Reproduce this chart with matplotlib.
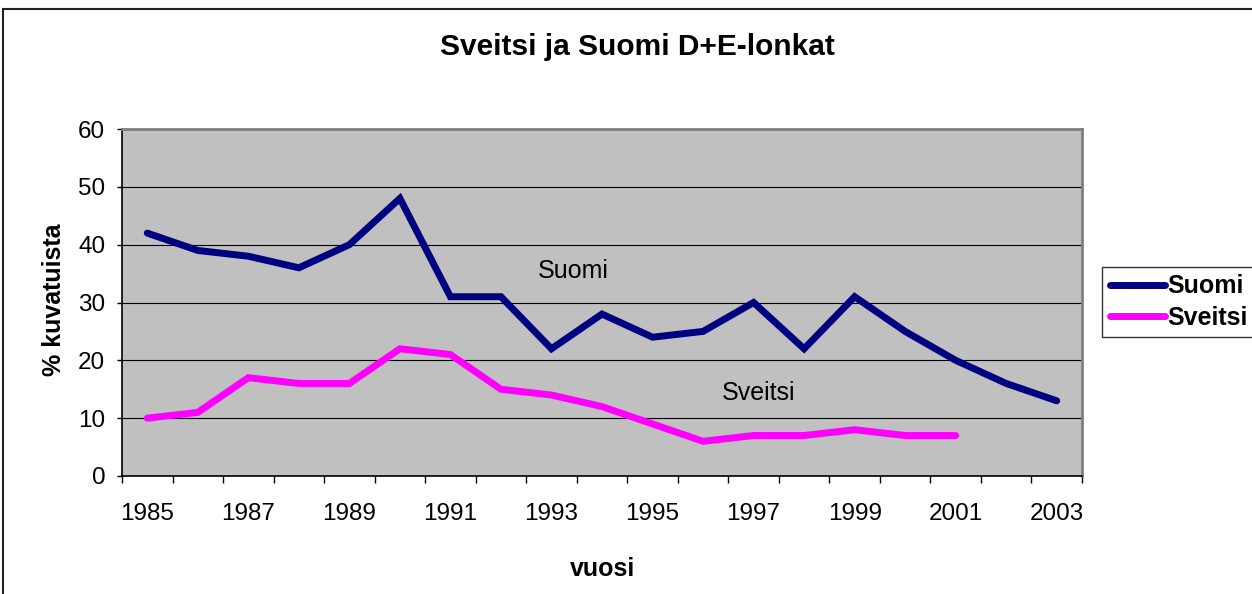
import matplotlib.pyplot as plt
import numpy as np
from matplotlib.patches import Rectangle
from matplotlib.ticker import FixedLocator, NullFormatter

plt.rcParams["font.family"] = ["Liberation Sans", "DejaVu Sans"]

# data
years = list(range(1985, 2004))
suomi = [42, 39, 38, 36, 40, 48, 31, 31, 22, 28, 24, 25, 30, 22, 31, 25, 20, 16, 13]
sveitsi = [10, 11, 17, 16, 16, 22, 21, 15, 14, 12, 9, 6, 7, 7, 8, 7, 7]
year_labels = [str(y) for y in years[::2]]

W, H = 1252, 594
fig = plt.figure(figsize=(W / 100, H / 100), dpi=100)
ax = fig.add_axes([122 / W, (H - 476) / H, 960 / W, 347 / H])
ax.set_facecolor("#C0C0C0")

x_su = np.arange(len(suomi))
x_sv = np.arange(len(sveitsi))
ax.plot(x_su, suomi, color="#000080", lw=5, solid_joinstyle="miter",
        solid_capstyle="round", label="Suomi", zorder=3)
ax.plot(x_sv, sveitsi, color="#FF00FF", lw=5, solid_joinstyle="miter",
        solid_capstyle="round", label="Sveitsi", zorder=3)

ax.set_xlim(-0.5, len(years) - 0.5)
ax.set_ylim(0, 60)

# y axis
ax.set_yticks(range(0, 61, 10))
ax.grid(axis="y", color="black", lw=0.8)
ax.set_axisbelow(True)
ax.tick_params(axis="y", length=3.6, width=1, pad=8.5, labelsize=17.5, direction="out")

# x axis: tick marks at category boundaries, labels every other year
ax.xaxis.set_major_locator(FixedLocator(np.arange(len(years) + 1) - 0.5))
ax.xaxis.set_major_formatter(NullFormatter())
ax.set_xticks(np.arange(0, len(years), 2), year_labels, minor=True)
ax.tick_params(axis="x", which="major", length=5, width=1, direction="out")
ax.tick_params(axis="x", which="minor", length=0, pad=19.5, labelsize=17.5)

for side in ("left", "bottom"):
    ax.spines[side].set_color("black")
    ax.spines[side].set_linewidth(1.2)
for side in ("top", "right"):
    ax.spines[side].set_color("#808080")
    ax.spines[side].set_linewidth(2)

ax.set_xlabel("vuosi", fontsize=18, fontweight="bold")
ax.xaxis.set_label_coords(0.501, -0.233)
ax.set_ylabel("% kuvatuista", fontsize=18, fontweight="bold")
ax.yaxis.set_label_coords(-0.058, 0.507)

ax.text(8.43, 35.4, "Suomi", fontsize=18, ha="center", va="center")
ax.text(12.09, 14.35, "Sveitsi", fontsize=18, ha="center", va="center")

fig.text(637 / W, 1 - 47 / H, "Sveitsi ja Suomi D+E-lonkat",
         fontsize=21.5, fontweight="bold", ha="center", va="center")

leg = fig.legend(loc="center left", bbox_to_anchor=(1102 / W, 1 - 302 / H),
                 prop={"weight": "bold", "size": 18},
                 handlelength=2.2, handletextpad=0.1, borderpad=0.3,
                 labelspacing=0.3, borderaxespad=0, fancybox=False)
leg.get_frame().set_edgecolor("black")
leg.get_frame().set_linewidth(1)
for line in leg.get_lines():
    line.set_linewidth(5)

# chart outer border (only top and left visible)
fig.patches.append(Rectangle((3 / W, -0.1), 1.2, 1.1 - 9 / H,
                             transform=fig.transFigure, fill=False,
                             edgecolor="#222222", lw=1.5))

fig.savefig("out.png", dpi=100)
